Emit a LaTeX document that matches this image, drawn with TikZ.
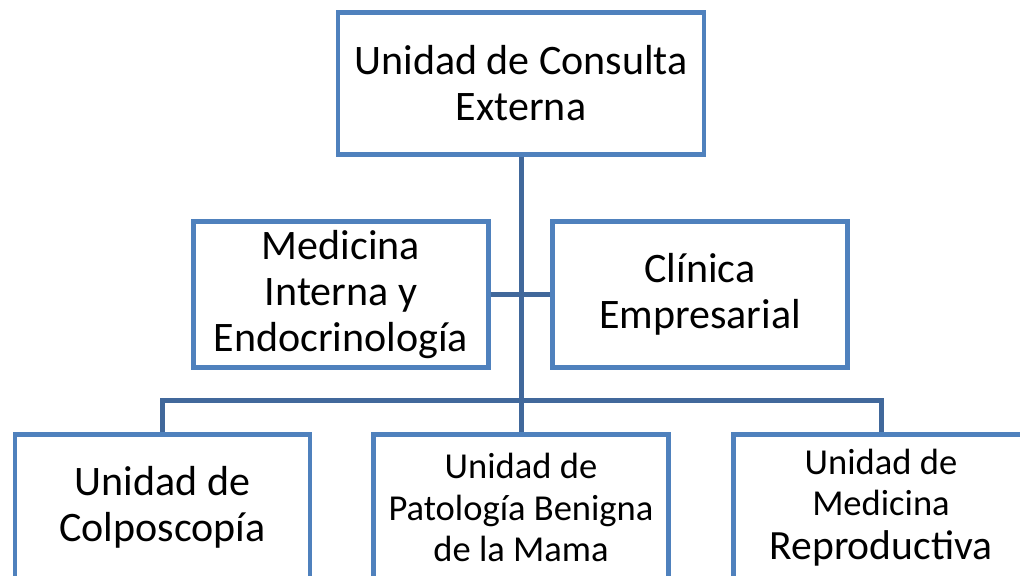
\documentclass[tikz,border=0pt]{standalone}
\usepackage{fontspec}
\setmainfont{Carlito}
\usetikzlibrary{positioning}

\definecolor{boxblue}{RGB}{79,129,189}
\definecolor{linkblue}{RGB}{65,104,155}

\begin{document}
\begin{tikzpicture}[
    x=0.75pt, y=-0.75pt,
    unit/.style={rectangle, draw=boxblue, line width=3.4pt, fill=white, align=center, inner sep=0pt, font=\fontsize{31.5}{34.5}\selectfont},
    small/.style={font=\fontsize{27.4}{30.8}\selectfont},
    link/.style={draw=linkblue, line width=3.75pt}
]
\clip (0,0) rectangle (1020,575);

% Top level
\node[unit, minimum width=274.5pt, minimum height=106.5pt] (top) at (521,83.5) {Unidad de Consulta\\Externa};

% Staff units
\node[unit, minimum width=221.25pt, minimum height=109.5pt] (medint) at (341,294.5) {Medicina\\Interna y\\Endocrinolog\'{\i}a};
\node[unit, minimum width=221.25pt, minimum height=109.5pt] (clinica) at (700,294.5) {Cl\'{\i}nica\\Empresarial};

% Lower units
\node[unit, minimum width=221pt, minimum height=109.5pt] (colpo) at (162.5,507.5) {Unidad de\\Colposcop\'{\i}a};
\node[unit, small, minimum width=221pt, minimum height=109.5pt] (mama) at (521,507.5) {Unidad de\\Patolog\'{\i}a Benigna\\de la Mama};
\node[unit, small, minimum width=221pt, minimum height=109.5pt] (reprod) at (881,507.5) {Unidad de\\Medicina\\[2pt]{\fontsize{31.2}{34}\selectfont Reproductiva}};

% Connectors
\coordinate (bus) at (521,400);
\draw[link] (top.south) -- (bus);
\draw[link] (medint.east) -- (clinica.west);
\draw[link] (colpo.north) |- (bus) -| (reprod.north);
\draw[link] (bus) -- (mama.north);

\end{tikzpicture}
\end{document}
